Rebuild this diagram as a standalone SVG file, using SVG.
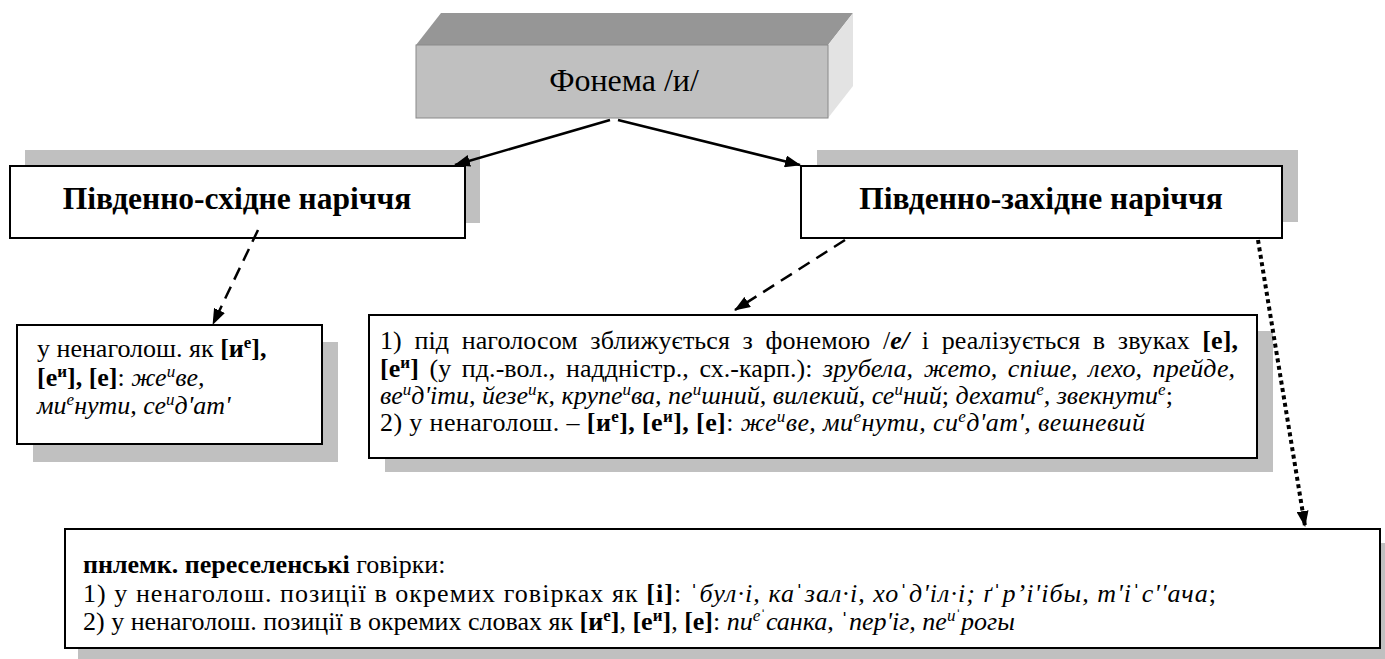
<svg xmlns="http://www.w3.org/2000/svg" width="1385" height="659" viewBox="0 0 1385 659" font-family="Liberation Serif">
  <style>
    svg, g, text, tspan { font-family: 'Liberation Serif', serif; }
    text { fill: #000; }
    .body { font-size: 26px; }
    .head { font-size: 31.5px; font-weight: bold; text-anchor: middle; }
    .title { font-size: 32px; text-anchor: middle; }
    .b { font-weight: bold; }
    .i { font-style: italic; }
    .sup { font-size: 17px; baseline-shift: super; }
    .box { fill: #fff; stroke: #000; stroke-width: 2; }
    .shadow { fill: #c0c0c0; }
    .conn { fill: none; stroke: #000; stroke-width: 2.5; }
    .dash { stroke-dasharray: 13 8; }
    .dot { stroke-width: 4; stroke-dasharray: 4 3.5; }
  </style>
  <defs>
    <marker id="head" markerUnits="userSpaceOnUse" markerWidth="16" markerHeight="12" refX="15" refY="6" orient="auto">
      <path d="M0,0 L16,6 L0,12 z" fill="#000"/>
    </marker>
  </defs>

  <!-- root: 3D block -->
  <g id="phoneme">
    <polygon points="416,45 441,13 853,13 828,45" fill="#969696"/>
    <polygon points="828,45 853,13 853,86 828,118" fill="#e3e3e3"/>
    <rect x="416" y="45" width="412" height="73" fill="#c0c0c0" stroke="#8a8a8a" stroke-width="1"/>
    <text class="title" x="624" y="91">Фонема /и/</text>
  </g>

  <!-- dialect headers -->
  <g id="south-east">
    <rect class="shadow" x="25" y="150" width="455" height="73"/>
    <rect class="box" x="10" y="166" width="455" height="72"/>
    <text class="head" x="237" y="209">Південно-східне наріччя</text>
  </g>
  <g id="south-west">
    <rect class="shadow" x="817" y="150" width="481" height="72"/>
    <rect class="box" x="801" y="166" width="481" height="72"/>
    <text class="head" x="1041" y="209">Південно-західне наріччя</text>
  </g>

  <!-- south-east detail -->
  <g id="se-detail">
    <rect class="shadow" x="33" y="342" width="305" height="120"/>
    <rect class="box" x="17" y="325" width="305" height="119"/>
    <text class="body" x="37" y="357">у ненаголош. як <tspan class="b">[и<tspan class="sup">е</tspan>],</tspan></text>
    <text class="body" x="37" y="386"><tspan class="b">[е<tspan class="sup">и</tspan>], [е]</tspan>: <tspan class="i">же<tspan class="sup">и</tspan>ве,</tspan></text>
    <text class="body i" x="37" y="414">ми<tspan class="sup">е</tspan>нути, се<tspan class="sup">и</tspan>д'ат'</text>
  </g>

  <!-- south-west detail -->
  <g id="sw-detail">
    <rect class="shadow" x="385" y="331" width="888" height="141"/>
    <rect class="box" x="369" y="315" width="888" height="143"/>
    <text class="body" style="word-spacing: 6px" x="380" y="349" textLength="858" lengthAdjust="spacing">1) під наголосом зближується з фонемою /<tspan class="b i">е/</tspan> і реалізується в звуках <tspan class="b">[е],</tspan></text>
    <text class="body" style="word-spacing: 4px" x="380" y="377" textLength="855" lengthAdjust="spacing"><tspan class="b">[е<tspan class="sup">и</tspan>]</tspan> (у пд.-вол., наддністр., сх.-карп.): <tspan class="i">зрубела, жето, спіше, лехо, прейде,</tspan></text>
    <text class="body" x="380" y="404"><tspan class="i">ве<tspan class="sup">и</tspan>д'іти, йезе<tspan class="sup">и</tspan>к, крупе<tspan class="sup">и</tspan>ва, пе<tspan class="sup">и</tspan>шний, вилекий, се<tspan class="sup">и</tspan>ний</tspan>; <tspan class="i">дехати<tspan class="sup">е</tspan>, звекнути<tspan class="sup">е</tspan></tspan>;</text>
    <text class="body" x="380" y="431" textLength="765" lengthAdjust="spacing">2) у ненаголош. – <tspan class="b">[и<tspan class="sup">е</tspan>], [е<tspan class="sup">и</tspan>], [е]</tspan>: <tspan class="i">же<tspan class="sup">и</tspan>ве, ми<tspan class="sup">е</tspan>нути, си<tspan class="sup">е</tspan>д'ат', вешневий</tspan></text>
  </g>

  <!-- resettled dialects -->
  <g id="resettled">
    <rect class="shadow" x="78" y="543" width="1318" height="120"/>
    <rect class="box" x="65" y="529" width="1315" height="119"/>
    <text class="body" x="83" y="573"><tspan class="b">пнлемк. переселенські</tspan> говірки:</text>
    <text class="body" x="83" y="602" textLength="1133" lengthAdjust="spacing">1) у ненаголош. позиції в окремих говірках як <tspan class="b">[і]</tspan>: <tspan class="i">ˈбул·і, каˈзал·і, хоˈд'іл·і; ґˈр’і'ібы, т'іˈс''ача</tspan>;</text>
    <text class="body" x="83" y="630">2) у ненаголош. позиції в окремих словах як <tspan class="b">[и<tspan class="sup">е</tspan>]</tspan>, <tspan class="b">[е<tspan class="sup">и</tspan>]</tspan>, <tspan class="b">[е]</tspan>: <tspan class="i">пи<tspan class="sup">еˈ</tspan>санка, ˈпер'іг, пе<tspan class="sup">иˈ</tspan>рогы</tspan></text>
  </g>

  <!-- connectors -->
  <g id="connectors">
    <path class="conn" d="M610,120 L455,165" marker-end="url(#head)"/>
    <path class="conn" d="M618,120 L800,165" marker-end="url(#head)"/>
    <path class="conn dash" d="M258,230 L213,324" marker-end="url(#head)"/>
    <path class="conn dash" d="M845,240 L735,310" marker-end="url(#head)"/>
    <path class="conn dot" d="M1258,240 L1305,526" marker-end="url(#head)"/>
  </g>
</svg>
